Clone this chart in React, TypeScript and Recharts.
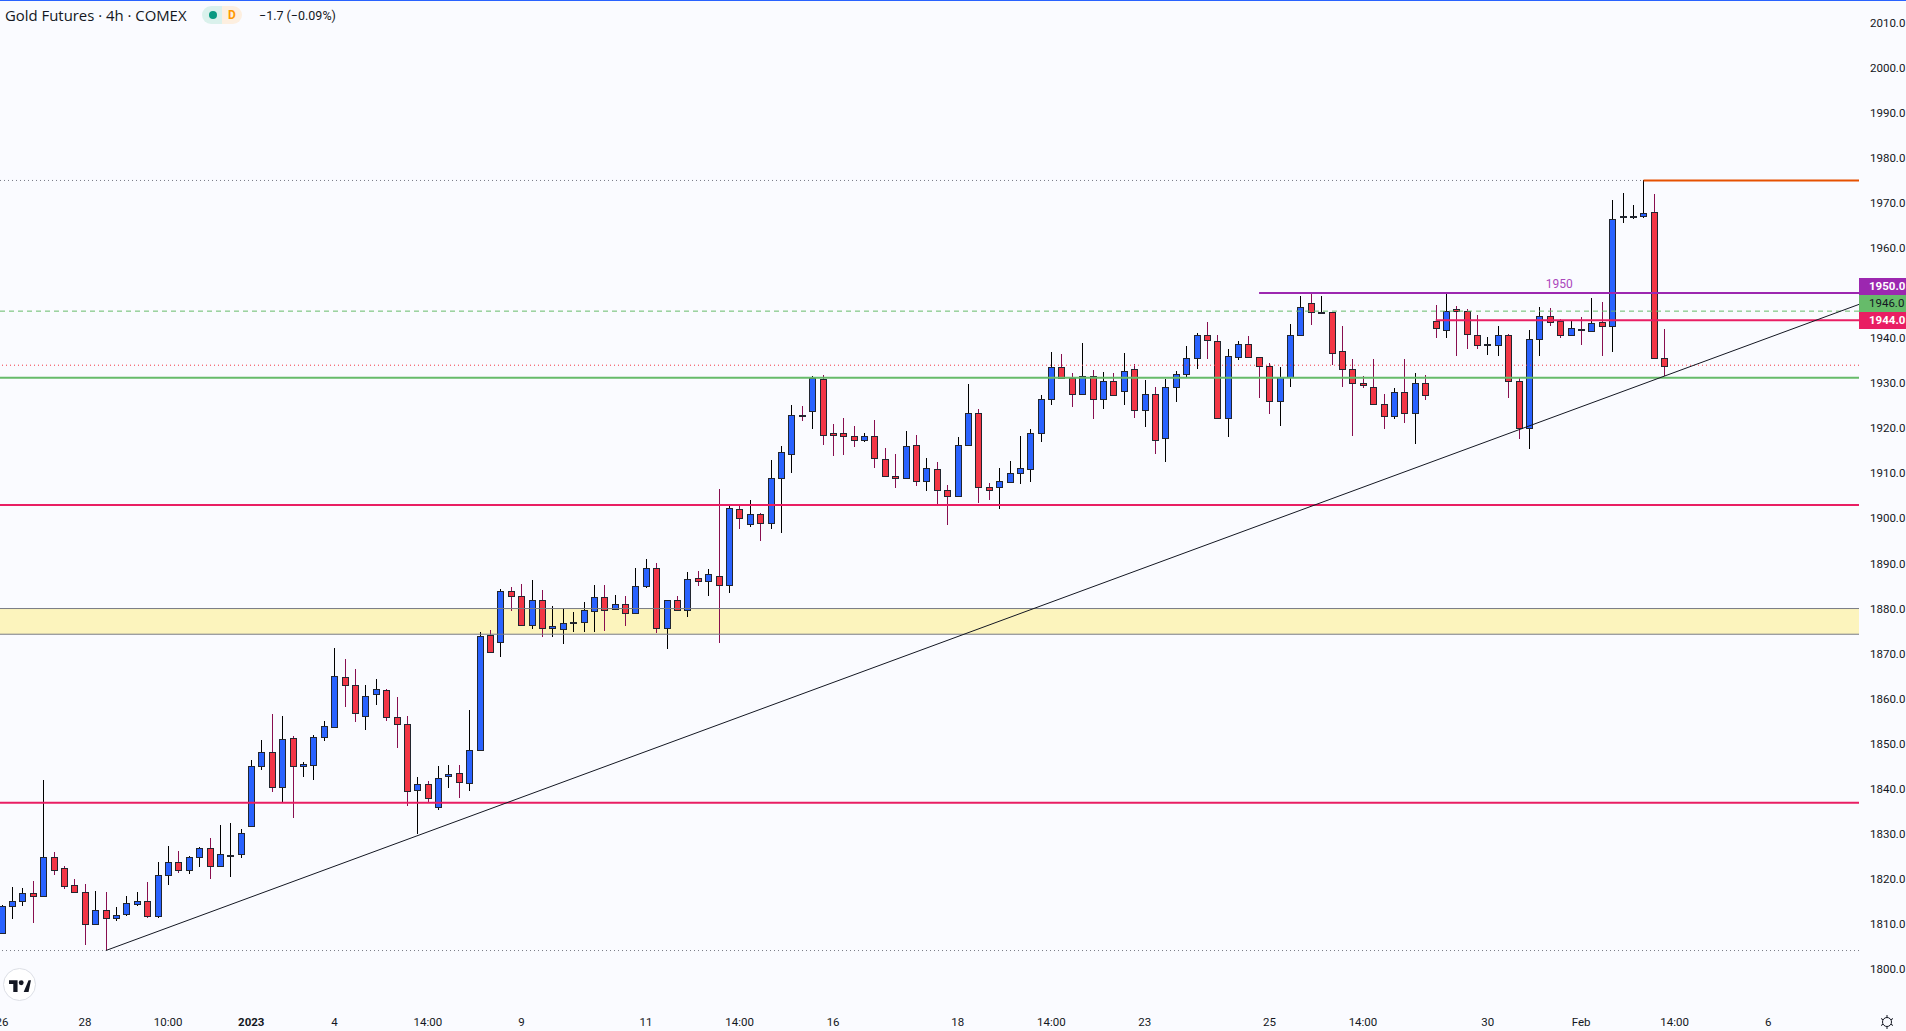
import { Bar, ComposedChart, ReferenceArea, ReferenceDot, ReferenceLine, XAxis, YAxis } from "recharts";

const opens = [
  1808.1, 1813.9, 1815.0, 1816.8, 1816.3, 1824.8, 1822.4, 1818.6, 1817.0, 1809.9,
  1813.0, 1811.4, 1812.3, 1814.5, 1815.0, 1811.8, 1820.8, 1823.7, 1821.9, 1824.8,
  1826.8, 1822.8, 1825.1, 1825.5, 1831.8, 1845.0, 1848.1, 1840.3, 1851.2, 1845.0,
  1845.2, 1851.4, 1853.8, 1864.7, 1863.0, 1856.1, 1861.1, 1861.9, 1855.9, 1854.3,
  1839.7, 1841.0, 1835.9, 1842.8, 1843.4, 1841.2, 1848.5, 1874.1, 1872.6, 1884.0,
  1882.7, 1876.4, 1881.8, 1875.7, 1875.5, 1877.0, 1877.1, 1879.4, 1882.5, 1879.8,
  1881.1, 1878.9, 1884.9, 1888.9, 1875.6, 1881.8, 1879.6, 1886.7, 1886.0, 1887.3,
  1885.3, 1902.2, 1898.7, 1900.9, 1898.9, 1908.9, 1914.4, 1922.9, 1923.8, 1930.9,
  1918.9, 1918.9, 1918.2, 1917.3, 1918.2, 1913.1, 1909.5, 1908.9, 1916.2, 1908.2,
  1910.9, 1906.2, 1904.9, 1916.4, 1923.5, 1906.9, 1906.9, 1908.0, 1910.0, 1910.9,
  1918.9, 1926.4, 1933.5, 1931.1, 1927.7, 1931.5, 1926.4, 1930.6, 1928.2, 1933.1,
  1924.0, 1927.7, 1917.8, 1929.1, 1932.0, 1935.7, 1940.6, 1939.3, 1922.2, 1935.9,
  1938.6, 1935.9, 1933.9, 1926.1, 1931.4, 1940.8, 1947.9, 1945.7, 1945.9, 1937.1,
  1933.1, 1930.0, 1929.1, 1925.5, 1922.8, 1928.0, 1923.5, 1930.0, 1943.9, 1941.9,
  1946.4, 1946.1, 1940.8, 1938.4, 1938.4, 1940.6, 1930.4, 1920.0, 1939.9, 1945.0,
  1943.9, 1940.6, 1942.1, 1941.7, 1943.5, 1942.6, 1967.0, 1967.0, 1967.2, 1967.9,
  1935.7,
];
const highs = [
  1814.2, 1818.2, 1817.9, 1819.5, 1842.0, 1826.0, 1822.8, 1819.9, 1818.8, 1817.3,
  1817.1, 1813.8, 1816.2, 1817.1, 1819.3, 1823.8, 1827.3, 1826.2, 1825.0, 1827.1,
  1829.1, 1832.0, 1832.4, 1831.1, 1846.4, 1850.8, 1856.6, 1856.2, 1851.7, 1845.9,
  1851.9, 1855.0, 1871.2, 1868.8, 1866.6, 1863.0, 1864.4, 1862.1, 1860.4, 1856.2,
  1842.6, 1841.7, 1845.1, 1845.3, 1845.3, 1857.5, 1874.7, 1875.2, 1884.3, 1884.8,
  1885.4, 1886.3, 1884.1, 1880.5, 1880.1, 1879.2, 1881.4, 1885.2, 1885.2, 1883.0,
  1882.8, 1889.0, 1891.0, 1890.1, 1882.0, 1882.8, 1888.1, 1888.3, 1888.7, 1906.5,
  1902.7, 1902.7, 1904.1, 1901.2, 1913.0, 1916.1, 1925.2, 1924.9, 1931.6, 1931.8,
  1920.9, 1922.3, 1920.5, 1918.9, 1921.8, 1915.6, 1914.3, 1919.4, 1918.5, 1913.4,
  1912.5, 1907.4, 1918.1, 1929.8, 1924.3, 1907.8, 1911.2, 1912.7, 1918.3, 1919.8,
  1927.4, 1936.9, 1936.5, 1932.3, 1938.9, 1932.9, 1932.5, 1932.3, 1936.7, 1934.3,
  1930.7, 1929.2, 1930.9, 1932.8, 1938.2, 1941.1, 1943.6, 1940.7, 1937.7, 1939.3,
  1940.5, 1935.9, 1934.5, 1933.6, 1943.1, 1949.3, 1949.8, 1949.3, 1945.9, 1942.7,
  1935.3, 1931.5, 1935.3, 1927.6, 1928.9, 1935.3, 1932.2, 1931.8, 1947.3, 1950.0,
  1947.1, 1946.4, 1945.1, 1940.2, 1942.7, 1941.0, 1931.1, 1941.9, 1946.9, 1946.7,
  1944.2, 1944.0, 1944.7, 1948.9, 1948.0, 1970.6, 1972.2, 1969.5, 1975.1, 1972.0,
  1942.0,
];
const lows = [
  1807.9, 1811.1, 1813.8, 1810.1, 1816.3, 1820.9, 1817.6, 1817.0, 1805.3, 1809.9,
  1804.2, 1810.7, 1811.8, 1814.1, 1811.4, 1811.4, 1818.7, 1821.3, 1820.9, 1822.6,
  1820.0, 1822.8, 1820.4, 1824.6, 1831.5, 1844.2, 1839.3, 1836.9, 1833.5, 1842.6,
  1842.0, 1850.6, 1853.5, 1858.2, 1854.8, 1853.1, 1858.6, 1855.0, 1849.1, 1836.2,
  1830.0, 1837.0, 1835.3, 1840.2, 1838.0, 1839.5, 1848.5, 1870.4, 1869.3, 1879.5,
  1876.2, 1875.5, 1873.7, 1873.7, 1872.0, 1874.8, 1874.8, 1874.8, 1875.1, 1879.7,
  1876.2, 1878.9, 1884.6, 1874.6, 1871.1, 1879.5, 1878.2, 1885.0, 1882.8, 1872.4,
  1883.5, 1897.6, 1898.1, 1895.0, 1897.6, 1896.8, 1910.1, 1921.6, 1919.8, 1916.3,
  1913.8, 1914.1, 1915.8, 1916.9, 1911.2, 1909.2, 1906.7, 1908.9, 1907.2, 1906.1,
  1902.7, 1898.5, 1904.9, 1916.1, 1903.4, 1904.1, 1902.1, 1908.0, 1907.6, 1908.1,
  1916.9, 1925.2, 1931.1, 1924.7, 1927.7, 1922.0, 1924.3, 1927.1, 1925.2, 1922.3,
  1920.3, 1914.3, 1912.5, 1926.0, 1931.4, 1933.1, 1935.4, 1922.2, 1918.1, 1935.1,
  1935.9, 1926.9, 1923.1, 1920.5, 1929.1, 1940.5, 1942.9, 1945.3, 1934.2, 1929.1,
  1918.3, 1928.9, 1925.5, 1919.8, 1922.0, 1921.1, 1916.5, 1926.3, 1940.0, 1940.0,
  1936.0, 1937.6, 1937.6, 1936.2, 1936.0, 1926.9, 1917.6, 1915.4, 1936.0, 1942.7,
  1940.0, 1940.5, 1938.5, 1941.3, 1936.0, 1936.8, 1965.6, 1966.5, 1966.7, 1935.7,
  1931.6,
];
const closes = [
  1813.9, 1815.0, 1816.8, 1816.3, 1824.8, 1821.9, 1818.5, 1817.0, 1809.9, 1813.0,
  1811.4, 1811.9, 1814.6, 1815.0, 1811.8, 1820.8, 1823.7, 1821.9, 1824.8, 1826.8,
  1822.8, 1825.5, 1825.3, 1830.1, 1845.0, 1848.1, 1840.3, 1851.0, 1845.0, 1845.4,
  1851.6, 1853.9, 1865.0, 1863.0, 1856.8, 1860.7, 1862.1, 1855.9, 1854.3, 1839.4,
  1841.0, 1837.9, 1842.5, 1843.2, 1841.4, 1848.5, 1873.8, 1870.4, 1884.0, 1882.7,
  1876.4, 1881.8, 1875.7, 1876.2, 1876.7, 1877.1, 1879.6, 1882.5, 1879.7, 1881.1,
  1878.9, 1884.9, 1888.9, 1875.6, 1881.8, 1879.6, 1886.5, 1886.0, 1887.6, 1885.3,
  1902.4, 1900.0, 1900.9, 1898.9, 1908.9, 1914.7, 1922.9, 1922.8, 1931.1, 1918.6,
  1918.6, 1918.4, 1917.3, 1918.2, 1913.3, 1909.5, 1908.9, 1916.0, 1908.2, 1911.1,
  1906.2, 1904.9, 1916.4, 1923.5, 1906.9, 1906.2, 1908.2, 1910.0, 1911.1, 1918.9,
  1926.4, 1933.7, 1931.1, 1927.7, 1931.5, 1926.4, 1930.6, 1927.5, 1932.8, 1924.0,
  1927.7, 1917.5, 1929.1, 1932.0, 1935.7, 1940.6, 1939.5, 1922.2, 1936.0, 1938.6,
  1935.9, 1933.9, 1926.1, 1931.3, 1940.8, 1947.0, 1945.7, 1945.9, 1936.8, 1933.1,
  1930.0, 1929.5, 1925.5, 1922.8, 1928.0, 1923.5, 1930.0, 1927.5, 1942.2, 1946.1,
  1946.1, 1941.0, 1938.4, 1938.8, 1940.6, 1930.4, 1920.0, 1939.9, 1945.0, 1943.7,
  1940.6, 1942.2, 1941.9, 1943.3, 1942.6, 1966.5, 1967.2, 1967.2, 1967.7, 1935.7,
  1933.9,
];

const xTickBars = [0, 8, 16, 24, 32, 41, 50, 62, 71, 80, 92, 101, 110, 122, 131, 143, 152, 161, 170];
const xTickLabels = ["26", "28", "10:00", "2023", "4", "14:00", "9", "11", "14:00", "16", "18", "14:00", "23", "25", "14:00", "30", "Feb", "14:00", "6"];
// 1950 is left out: the purple price tag sits on that spot
const yTicks = [1800, 1810, 1820, 1830, 1840, 1850, 1860, 1870, 1880, 1890, 1900, 1910, 1920, 1930, 1940, 1960, 1970, 1980, 1990, 2000, 2010];
const priceTags = [
  { label: "1950.0", bg: "#9c27b0", color: "#ffffff", weight: 700 },
  { label: "1946.0", bg: "#66bb6a", color: "#131722", weight: 400 },
  { label: "1944.0", bg: "#e91e63", color: "#ffffff", weight: 700 },
];

const candles = opens.map((open, i) => ({
  bar: i,
  up: closes[i] >= opens[i],
  body: [Math.min(open, closes[i]), Math.max(open, closes[i])],
  wick: [lows[i], highs[i]],
}));

const X_DOMAIN = [-0.183, 178.74];
const Y_DOMAIN = [1792.68, 2015.05];
const LAST = X_DOMAIN[1];
const FONT = "Roboto, sans-serif";

function BodyShape(props: any) {
  const { x, y, width, height, payload } = props;
  const left = Math.floor(x + width / 2) - 3;
  const top = Math.round(y);
  const h = Math.max(Math.round(y + height) - top, 1);
  return (
    <rect
      x={left + 0.5}
      y={top + 0.5}
      width={6}
      height={h}
      fill={payload.up ? "#2962ff" : "#f23645"}
      stroke="#22262f"
      strokeWidth={1}
      shapeRendering="crispEdges"
    />
  );
}

function WickShape(props: any) {
  const { x, y, width, height, payload } = props;
  return (
    <rect
      x={Math.floor(x + width / 2)}
      y={Math.round(y)}
      width={1}
      height={Math.max(Math.round(height), 1)}
      fill={payload.up ? "#000000" : "#880e4f"}
      shapeRendering="crispEdges"
    />
  );
}

function TimeTick(props: any) {
  const { x, y, payload } = props;
  const label = xTickLabels[xTickBars.indexOf(payload.value)];
  return (
    <text x={x} y={y} dy={16} textAnchor="middle" fontFamily={FONT} fontSize={11.5} fontWeight={label === "2023" ? 700 : 400} fill="#131722">
      {label}
    </text>
  );
}

export default function App() {
  return (
    <div style={{ position: "absolute", left: 0, top: 0, width: 1906, height: 1031, background: "#fafbff", overflow: "hidden", fontFamily: FONT, color: "#131722" }}>
      <ComposedChart width={1906} height={1031} data={candles} margin={{ top: 0, right: 0, bottom: 0, left: 0 }} barGap={0}>
        <XAxis
          xAxisId="body"
          dataKey="bar"
          type="number"
          domain={X_DOMAIN}
          allowDataOverflow
          ticks={xTickBars}
          interval={0}
          height={29}
          axisLine={false}
          tickLine={false}
          tick={TimeTick}
        />
        <XAxis xAxisId="wick" dataKey="bar" type="number" domain={X_DOMAIN} allowDataOverflow hide />
        <YAxis
          orientation="right"
          type="number"
          domain={Y_DOMAIN}
          allowDataOverflow
          ticks={yTicks}
          interval={0}
          width={47}
          axisLine={false}
          tickLine={false}
          tickMargin={5}
          tick={{ fontSize: 11.5, fontFamily: FONT, fill: "#131722" }}
          tickFormatter={(v: number) => v.toFixed(1)}
        />

        <ReferenceArea xAxisId="body" x1={X_DOMAIN[0]} x2={LAST} y1={1874.3} y2={1880} fill="#fcf4bd" fillOpacity={1} stroke="none" />
        <ReferenceLine xAxisId="body" y={1880} stroke="#787b86" strokeWidth={1} />
        <ReferenceLine xAxisId="body" y={1874.3} stroke="#787b86" strokeWidth={1} />

        <ReferenceLine xAxisId="body" segment={[{ x: -0.183, y: 1975 }, { x: 158, y: 1975 }]} stroke="#787b86" strokeWidth={1} strokeDasharray="1 3" />
        <ReferenceLine xAxisId="body" segment={[{ x: 158, y: 1975 }, { x: LAST, y: 1975 }]} stroke="#e65100" strokeWidth={2} />
        <ReferenceLine xAxisId="body" y={1946} stroke="#66bb6a" strokeWidth={1} strokeDasharray="5 4" />
        <ReferenceLine xAxisId="body" y={1934} stroke="#f23645" strokeWidth={1} strokeDasharray="1 3" />
        <ReferenceLine xAxisId="body" y={1931.2} stroke="#66bb6a" strokeWidth={2} />
        <ReferenceLine xAxisId="body" y={1903} stroke="#e91e63" strokeWidth={2} />
        <ReferenceLine xAxisId="body" y={1836.9} stroke="#e91e63" strokeWidth={2} />
        <ReferenceLine xAxisId="body" y={1804.1} stroke="#787b86" strokeWidth={1} strokeDasharray="1 3" />
        <ReferenceLine xAxisId="body" segment={[{ x: 138, y: 1944 }, { x: LAST, y: 1944 }]} stroke="#e91e63" strokeWidth={2} />
        <ReferenceLine xAxisId="body" segment={[{ x: 121, y: 1950 }, { x: LAST, y: 1950 }]} stroke="#9c27b0" strokeWidth={2} />
        <ReferenceLine xAxisId="body" segment={[{ x: 10, y: 1804.1 }, { x: LAST, y: 1947.5 }]} stroke="#131722" strokeWidth={1} />
        <ReferenceDot
          xAxisId="body"
          x={149.9}
          y={1952.1}
          r={0}
          fill="none"
          stroke="none"
          label={{ value: "1950", position: "center", fill: "#ab47bc", fontSize: 12, fontFamily: FONT }}
        />

        <Bar xAxisId="wick" dataKey="wick" barSize={1} isAnimationActive={false} shape={WickShape} />
        <Bar xAxisId="body" dataKey="body" barSize={7} isAnimationActive={false} shape={BodyShape} />
      </ComposedChart>

      <div style={{ position: "absolute", left: 0, top: 0, width: 1906, height: 1, background: "#2962ff" }} />

      <div style={{ position: "absolute", left: 5, top: 6, fontFamily: "'Open Sans', sans-serif", fontSize: 14.9, lineHeight: "18px", whiteSpace: "nowrap" }}>
        Gold Futures · 4h · COMEX
      </div>
      <div style={{ position: "absolute", left: 202, top: 6, width: 20, height: 18, background: "#daf1ec", borderRadius: "9px 0 0 9px" }} />
      <div style={{ position: "absolute", left: 222, top: 6, width: 20, height: 18, background: "#fdefe0", borderRadius: "0 9px 9px 0", color: "#ff9800", fontSize: 12, fontWeight: 700, lineHeight: "18px", textAlign: "center" }}>
        D
      </div>
      <div style={{ position: "absolute", left: 209, top: 11, width: 8, height: 8, borderRadius: 4, background: "#089981" }} />
      <div style={{ position: "absolute", left: 259, top: 7, fontSize: 12.5, lineHeight: "18px", whiteSpace: "nowrap" }}>
        −1.7 (−0.09%)
      </div>

      {priceTags.map((tag, i) => (
        <div
          key={tag.label}
          style={{ position: "absolute", left: 1859, top: 278 + i * 17, width: 47, height: 17, background: tag.bg, color: tag.color, fontSize: 11.5, fontWeight: tag.weight, lineHeight: "17px", paddingLeft: 10, boxSizing: "border-box", whiteSpace: "nowrap" }}
        >
          {tag.label}
        </div>
      ))}

      <div style={{ position: "absolute", left: 3, top: 968, width: 33, height: 33, boxSizing: "border-box", borderRadius: "50%", background: "#ffffff", border: "1px solid #dcdfe6" }} />
      <svg style={{ position: "absolute", left: 9, top: 979 }} width={22} height={13} viewBox="0 0 36 21">
        <path d="M14 2H0v6h7v13h7V2zM32 21h-8l8-19h4z" fill="#131722" />
        <circle cx="20" cy="6" r="4" fill="#131722" />
      </svg>
      <svg style={{ position: "absolute", left: 1879, top: 1014 }} width={16} height={16} viewBox="0 0 16 16" fill="none" stroke="#131722" strokeWidth={1}>
        <circle cx="8" cy="8" r="4.5" />
        <path d="M8 1v2.5M8 12.5V15M2 4.5l2 1.2M12 10.3l2 1.2M2 11.5l2-1.2M12 5.7l2-1.2" />
      </svg>
    </div>
  );
}
